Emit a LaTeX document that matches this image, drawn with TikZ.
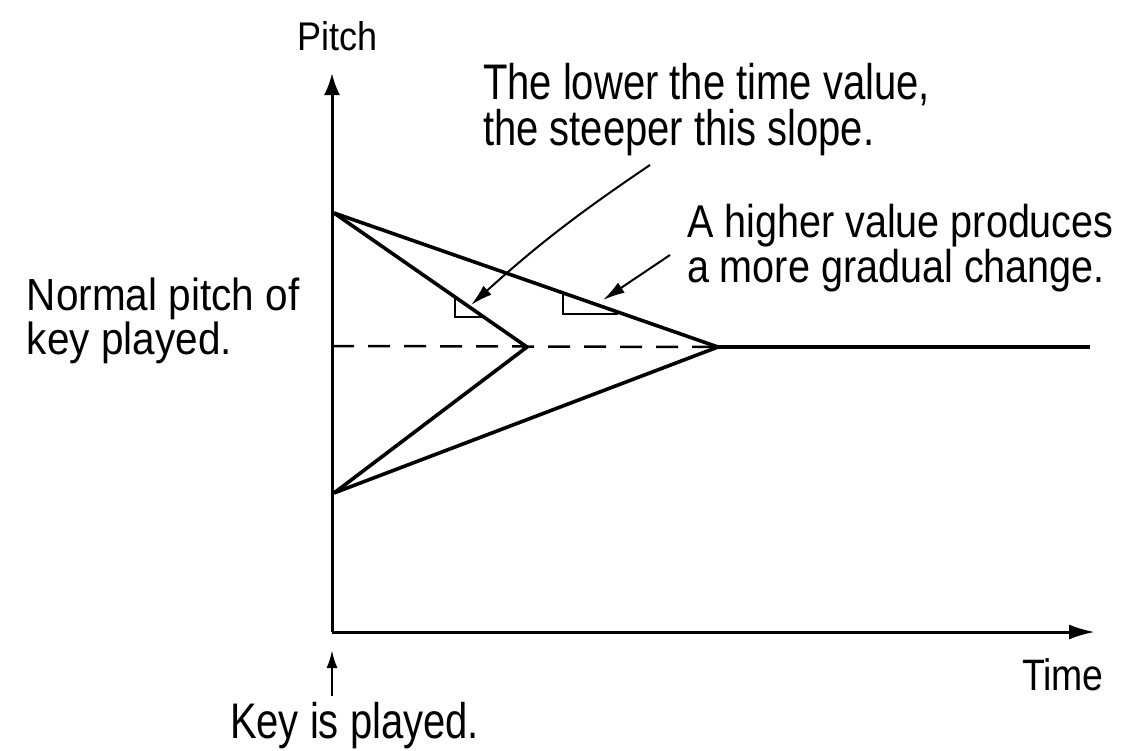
\documentclass[tikz,border=0pt]{standalone}
\usepackage{fontspec}
\setmainfont{Liberation Sans}
\newfontfamily\fA[FakeStretch=0.8]{Liberation Sans}
\newfontfamily\fB[FakeStretch=0.86]{Liberation Sans}
\newfontfamily\fC[FakeStretch=0.9]{Liberation Sans}
\newfontfamily\fD[FakeStretch=0.85]{Liberation Sans}
\usetikzlibrary{arrows.meta}
\begin{document}
\begin{tikzpicture}[x=1pt,y=-1pt,
  lbl/.style={anchor=base west,inner sep=0pt,outer sep=0pt},
  bigtxt/.style={lbl,font=\fA\fontsize{50}{50}\selectfont},
  midtxt/.style={lbl,font=\fB\fontsize{46}{46}\selectfont},
  normtxt/.style={lbl,font=\fC\fontsize{45}{45}\selectfont},
  axis/.style={line width=3pt},
  curve/.style={line width=3.6pt,line join=miter},
  callout/.style={line width=2pt,-{Latex[length=22pt,width=12pt]}},
  helper/.style={line width=2pt}]
\useasboundingbox (0,0) rectangle (1134,750);
% points
\coordinate (O) at (332,632);
\coordinate (Ytip) at (332,73);
\coordinate (Xtip) at (1095,632);
\coordinate (A) at (334,213);
\coordinate (B) at (334,493);
\coordinate (S) at (527,347);
\coordinate (G) at (718,347);
\coordinate (E) at (1090,347);
\coordinate (N) at (332,346);
% axes
\draw[axis,-{Latex[length=22pt,width=16pt]}] (O) -- (Ytip);
\draw[axis,-{Latex[length=26pt,width=15pt]}] (O) -- (Xtip);
% dashed normal pitch
\draw[line width=2.5pt,dash pattern=on 22pt off 14pt] (N) -- (G);
% slopes
\draw[curve] (A) -- (S) -- (B);
\draw[curve] (A) -- (G) -- (B);
\draw[curve] (G) -- (E);
% slope triangles
\coordinate (t1a) at (455,297);
\coordinate (t1b) at (455,317);
\coordinate (t1c) at (482,317);
\draw[helper] (t1a) -- (t1b) -- (t1c);
\coordinate (t2a) at (563,293);
\coordinate (t2b) at (563,314);
\coordinate (t2c) at (618,314);
\draw[helper] (t2a) -- (t2b) -- (t2c);
% labels
\node[lbl,font=\fC\fontsize{40}{40}\selectfont] (pitch) at (297,50) {Pitch};
\node[lbl,font=\fD\fontsize{44}{44}\selectfont] (time) at (1022,690) {Time};
\node[bigtxt] (low1) at (483,99) {The lower the time value,};
\node[bigtxt] (low2) at (483,145) {the steeper this slope.};
\node[midtxt] (hi1) at (687,237) {A higher value produces};
\node[midtxt] (hi2) at (687,282) {a more gradual change.};
\node[normtxt] (norm1) at (27,310) {Normal pitch of};
\node[normtxt] (norm2) at (27,354) {key played.};
\node[bigtxt] (key) at (230,738) {Key is played.};
% callouts
\coordinate (c1s) at (650,165);
\coordinate (c1e) at (471,305);
\draw[callout] (c1s) to[bend right=4] (c1e);
\coordinate (c2s) at (670,255);
\coordinate (c2e) at (603,300);
\draw[callout] (c2s) -- (c2e);
\coordinate (k1) at (332,696);
\coordinate (k2) at (332,650);
\draw[line width=2.5pt,-{Latex[length=18pt,width=11pt]}] (k1) -- (k2);
\end{tikzpicture}
\end{document}
